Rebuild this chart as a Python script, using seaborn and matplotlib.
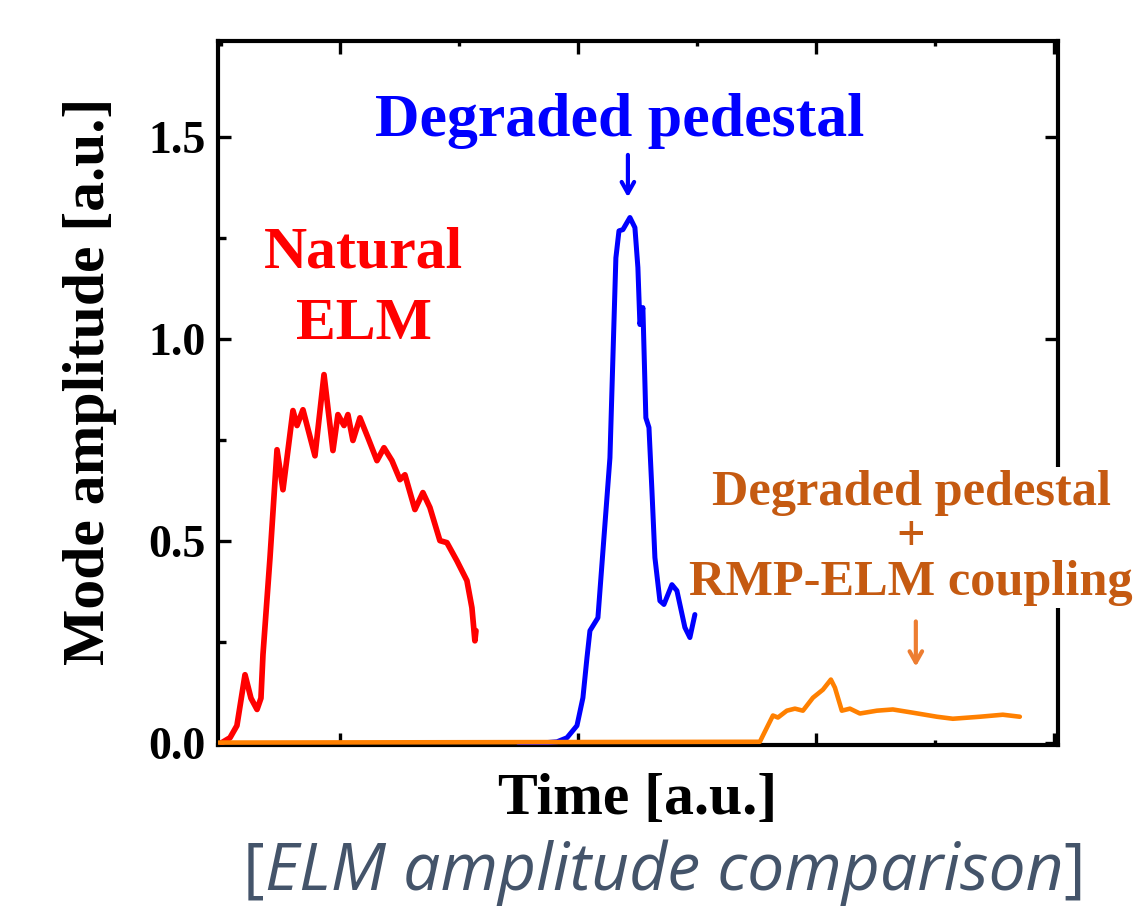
import numpy as np
import pandas as pd
import matplotlib
matplotlib.use("Agg")
import matplotlib.pyplot as plt
from matplotlib.ticker import MultipleLocator
import seaborn as sns

# ---------------- data ----------------
natural_t = [-0.992, -0.924, -0.866, -0.798, -0.748, -0.697, -0.664, -0.647, -0.588, -0.529,
             -0.479, -0.395, -0.361, -0.311, -0.210, -0.134, -0.059, -0.017, 0.034, 0.067,
             0.109, 0.168, 0.235, 0.311, 0.370, 0.437, 0.504, 0.546, 0.630, 0.697,
             0.756, 0.840, 0.899, 0.983, 1.067, 1.109, 1.134, 1.143]
natural_amp = [0.0, 0.012, 0.042, 0.168, 0.110, 0.082, 0.110, 0.218, 0.458, 0.725,
               0.626, 0.822, 0.785, 0.824, 0.710, 0.911, 0.723, 0.812, 0.785, 0.812,
               0.748, 0.804, 0.755, 0.698, 0.730, 0.698, 0.651, 0.663, 0.577, 0.619,
               0.582, 0.500, 0.495, 0.450, 0.401, 0.334, 0.252, 0.277]

degraded_t = [1.50, 1.739, 1.824, 1.908, 1.992, 2.042, 2.076, 2.101, 2.168, 2.227, 2.269,
              2.294, 2.319, 2.345, 2.378, 2.437, 2.479, 2.504, 2.521, 2.546, 2.555,
              2.571, 2.597, 2.622, 2.647, 2.689, 2.723, 2.790, 2.832, 2.899, 2.941, 2.983]
degraded_amp = [0.0, 0.0, 0.002, 0.012, 0.042, 0.111, 0.210, 0.277, 0.309, 0.540, 0.705,
                0.953, 1.200, 1.267, 1.270, 1.300, 1.275, 1.176, 1.035, 1.077, 0.978,
                0.804, 0.780, 0.624, 0.458, 0.351, 0.342, 0.391, 0.376, 0.285, 0.260, 0.317]

rmp_t = [-1.02, 3.529, 3.588, 3.639, 3.681, 3.756, 3.824, 3.891, 3.975, 4.059, 4.126,
         4.160, 4.218, 4.286, 4.370, 4.513, 4.647, 4.815, 5.017, 5.151, 5.378, 5.571, 5.714]
rmp_amp = [0.0, 0.002, 0.037, 0.067, 0.062, 0.079, 0.084, 0.079, 0.111, 0.131, 0.156,
           0.136, 0.079, 0.084, 0.072, 0.079, 0.082, 0.074, 0.064, 0.059, 0.064, 0.069, 0.064]

series_names = ["Natural ELM", "Degraded pedestal", "Degraded pedestal + RMP-ELM coupling"]
series_colors = ["#FF0000", "#0000FF", "#FF8000"]
y_ticks = [0.0, 0.5, 1.0, 1.5]
y_tick_labels = ["0.0", "0.5", "1.0", "1.5"]

df = pd.concat([
    pd.DataFrame({"t": natural_t, "amp": natural_amp, "series": series_names[0]}),
    pd.DataFrame({"t": degraded_t, "amp": degraded_amp, "series": series_names[1]}),
    pd.DataFrame({"t": rmp_t, "amp": rmp_amp, "series": series_names[2]}),
], ignore_index=True)

# ---------------- figure ----------------
sns.set_style("white")
plt.rcParams["font.family"] = ["Liberation Serif", "DejaVu Serif"]
plt.rcParams["text.color"] = "black"
plt.rcParams["axes.labelcolor"] = "black"
plt.rcParams["xtick.color"] = "black"
plt.rcParams["ytick.color"] = "black"

fig = plt.figure(figsize=(11.39, 9.07), dpi=100)
ax = fig.add_axes([0.1914, 0.1786, 0.7375, 0.7762])

sns.lineplot(data=df, x="t", y="amp", hue="series", hue_order=series_names,
             palette=dict(zip(series_names, series_colors)), estimator=None,
             sort=False, legend=False, linewidth=3.5, ax=ax)
for ln, lw in zip(ax.lines, [4.1, 3.6, 3.3]):
    ln.set_linewidth(lw)
    ln.set_zorder(3)
    ln.set_solid_capstyle("round")
    ln.set_solid_joinstyle("round")

ax.set_xlim(-1.025, 6.035)
ax.set_ylim(-0.006, 1.737)

# spines
for s in ax.spines.values():
    s.set_linewidth(3.0)
    s.set_color("black")
    s.set_visible(True)

# ticks
ax.xaxis.set_major_locator(MultipleLocator(2))
ax.xaxis.set_minor_locator(MultipleLocator(1))
ax.set_yticks(y_ticks)
ax.yaxis.set_minor_locator(MultipleLocator(0.25))
ax.tick_params(axis="x", which="major", direction="in", length=9, width=2.4,
               top=True, bottom=True, labelbottom=False)
ax.tick_params(axis="x", which="minor", direction="in", length=3.5, width=2.4,
               top=True, bottom=True)
ax.tick_params(axis="y", which="major", direction="in", length=9.5, width=2.4,
               left=True, right=True, pad=9, labelcolor="black")
ax.tick_params(axis="y", which="minor", direction="in", length=6, width=2.4,
               left=True, right=False)
ax.set_yticklabels(y_tick_labels, fontsize=33, fontweight="bold", color="black")

# axis labels
ax.set_ylabel("Mode amplitude [a.u.]", fontsize=43, fontweight="bold", va="center",
              color="black")
ax.yaxis.set_label_coords(-0.152, 0.517)
ax.set_xlabel("Time [a.u.]", fontsize=43, fontweight="bold", va="center", color="black")
ax.xaxis.set_label_coords(0.5, -0.078)

# annotations
ax.text(2.35, 1.502, "Degraded pedestal", color="#0000FF", fontsize=44.5,
        fontweight="bold", ha="center", va="baseline")
ax.annotate("", xy=(2.42, 1.350), xytext=(2.42, 1.455),
            arrowprops=dict(arrowstyle="->,head_length=0.8,head_width=0.45",
                            color="#0000FF", lw=3.0, shrinkA=0, shrinkB=0),
            annotation_clip=False)

ax.text(0.20, 1.176, "Natural", color="#FF0000", fontsize=43,
        fontweight="bold", ha="center", va="baseline")
ax.text(0.20, 0.998, "ELM", color="#FF0000", fontsize=43,
        fontweight="bold", ha="center", va="baseline")

ax.text(4.80, 0.507, "Degraded pedestal\n+\nRMP-ELM coupling", color="#C55A11",
        fontsize=36.3, fontweight="bold", ha="center", va="center", multialignment="center",
        linespacing=0.97, zorder=4,
        bbox=dict(boxstyle="square,pad=0.05", facecolor="white", edgecolor="none"))
ax.annotate("", xy=(4.84, 0.188), xytext=(4.84, 0.300),
            arrowprops=dict(arrowstyle="->,head_length=0.8,head_width=0.45",
                            color="#ED7D31", lw=3.0, shrinkA=0, shrinkB=0),
            annotation_clip=False)

# caption
cap_kw = dict(fontsize=47.5, color="#44546A", family=["Open Sans", "DejaVu Sans"])
t1 = fig.text(243 / 1139, 1 - 906 / 907, "[", ha="left", va="bottom", **cap_kw)
t2 = ax.annotate("ELM amplitude comparison", xy=(1, 0), xycoords=t1,
                 ha="left", va="bottom", fontstyle="italic", annotation_clip=False, **cap_kw)
t3 = ax.annotate("]", xy=(1, 0), xycoords=t2, ha="left", va="bottom",
                 annotation_clip=False, **cap_kw)

fig.savefig("out.png", dpi=100, facecolor="white")
